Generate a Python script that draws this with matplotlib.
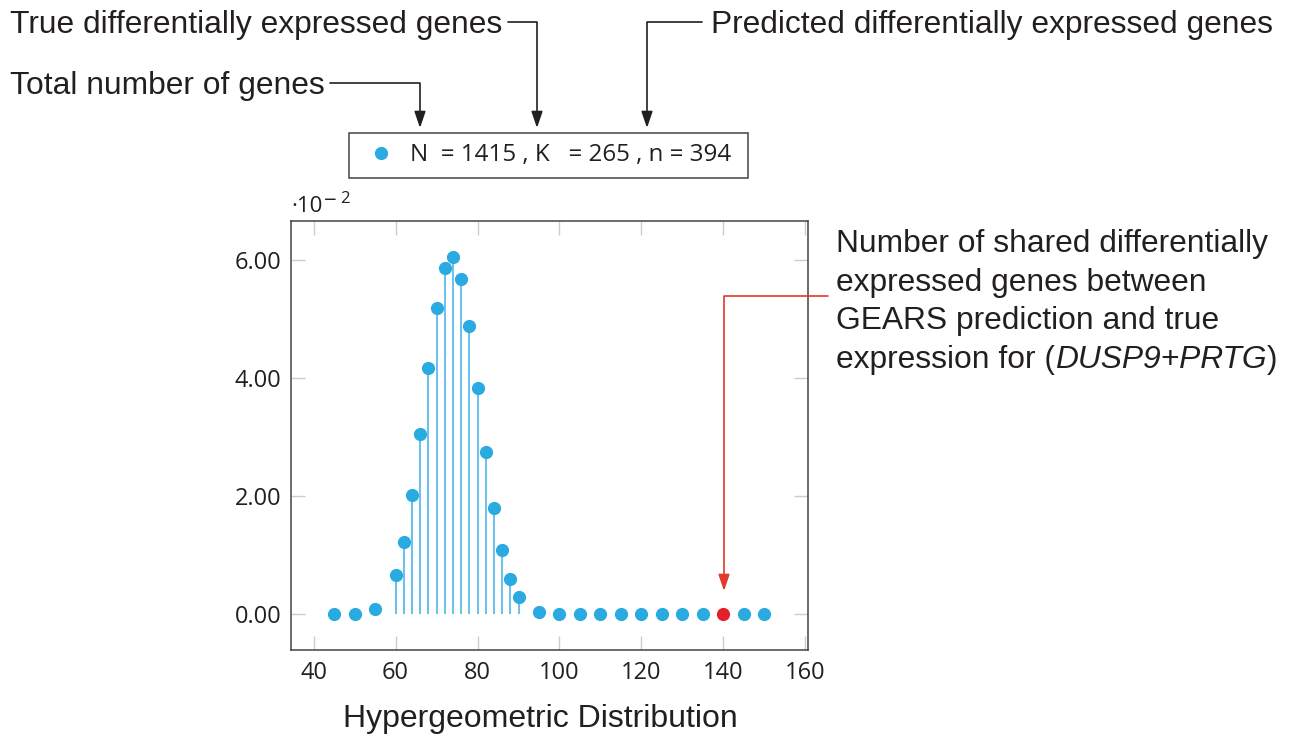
import matplotlib
matplotlib.use("Agg")
import matplotlib.pyplot as plt
from matplotlib.lines import Line2D
from matplotlib.patches import Rectangle

# ---- data (y in units of 1e-2) ----
k_values = [45, 50, 55, 60, 62, 64, 66, 68, 70, 72, 74, 76, 78, 80, 82, 84, 86, 88, 90,
            95, 100, 105, 110, 115, 120, 125, 130, 135, 140, 145, 150]
pmf_e2 = [0.00, 0.00, 0.09, 0.66, 1.22, 2.02, 3.05, 4.17, 5.19, 5.86, 6.05, 5.68, 4.88,
          3.83, 2.75, 1.80, 1.09, 0.60, 0.30, 0.03, 0.00, 0.00, 0.00, 0.00, 0.00, 0.00,
          0.00, 0.00, 0.00, 0.00, 0.00]
observed_k = 140
x_ticks = [40, 60, 80, 100, 120, 140, 160]
y_ticks = [0, 2, 4, 6]
legend_label = "N  = 1415 , K   = 265 , n = 394"
xlabel = "Hypergeometric Distribution"
label_true = "True differentially expressed genes"
label_pred = "Predicted differentially expressed genes"
label_total = "Total number of genes"
label_shared = ["Number of shared differentially",
                "expressed genes between",
                "GEARS prediction and true"]
label_shared_last = ["expression for (", "DUSP9+PRTG", ")"]

# ---- style ----
BLUE = "#29ABE2"
STEM = "#4DB8E8"
RED = "#E3202A"
TXT = "#231F20"
HELV = "Liberation Sans"
MYR = "Open Sans"
ANN_SIZE = 22.85

W, H = 1291, 737
fig = plt.figure(figsize=(W / 100, H / 100), dpi=100)
ax = fig.add_axes([291 / W, 1 - 650 / H, (807.5 - 291) / W, (650 - 221) / H])

ax.vlines(k_values, 0, pmf_e2, color=STEM, lw=1.2, zorder=2)
blue_k = [k for k in k_values if k != observed_k]
blue_y = [y for k, y in zip(k_values, pmf_e2) if k != observed_k]
ax.plot(blue_k, blue_y, "o", ms=9.5, color=BLUE, mec="none", zorder=3)
obs_y = pmf_e2[k_values.index(observed_k)]
ax.plot([observed_k], [obs_y], "o", ms=9.5, color=RED, mec="none", zorder=4)

ax.set_xlim(34.5, 160.5)
ax.set_ylim(-0.605, 6.655)
ax.set_xticks(x_ticks)
ax.set_yticks(y_ticks)
ax.set_yticklabels([f"{v:.2f}" for v in y_ticks])
ax.tick_params(direction="in", length=10, width=1, color="#cccccc",
               top=True, right=True, labelsize=17, labelcolor=TXT)
ax.tick_params(axis="y", pad=7)
ax.tick_params(axis="x", pad=8)
for lab in ax.get_xticklabels() + ax.get_yticklabels():
    lab.set_fontfamily(MYR)
for sp in ax.spines.values():
    sp.set_color("#444444")
    sp.set_linewidth(1.1)

ax.set_xlabel(xlabel, fontsize=23, family=HELV, color=TXT)
ax.xaxis.label.set_verticalalignment("baseline")
ax.xaxis.set_label_coords((540.5 - 291) / 516.5, (650 - 727) / 429)

# scale factor label
fig.text(291 / W, 1 - 212 / H, "·10", fontsize=16, family=MYR, color=TXT,
         ha="left", va="baseline")
fig.text(324 / W, 1 - 207 / H, "−", fontsize=16, family=MYR, color=TXT,
         ha="left", va="baseline")
fig.text(340 / W, 1 - 203 / H, "2", fontsize=12, family=MYR, color=TXT,
         ha="left", va="baseline")

# legend (content) + frame
LEG_SIZE = 17.4
em = LEG_SIZE / 72 * 100
handle = Line2D([], [], marker="o", ls="none", color=BLUE, mec="none", ms=9.5)
leg = fig.legend([handle], [legend_label], loc="center left",
                 bbox_to_anchor=((380.7 - em / 2) / W, 1 - 155.5 / H),
                 frameon=False, prop={"family": MYR, "size": LEG_SIZE},
                 handlelength=1.0, handletextpad=0.7, borderpad=0,
                 borderaxespad=0)
for t in leg.get_texts():
    t.set_color(TXT)
fig.add_artist(Rectangle((349 / W, 1 - 178 / H), (748 - 349) / W, 45 / H,
                         transform=fig.transFigure, fill=False,
                         edgecolor="#444444", lw=1.1))


# annotation texts (figure pixel coordinates, measured from top-left)
def ftext(x, y, s, **kw):
    return fig.text(x / W, 1 - y / H, s, fontsize=ANN_SIZE, family=HELV, color=TXT,
                    va="baseline", **kw)


ftext(10, 33, label_true, ha="left")
ftext(10, 94, label_total, ha="left")
ftext(1273, 33, label_pred, ha="right")
for i, line in enumerate(label_shared):
    ftext(836, 252 + i * 38.7, line, ha="left")

renderer = fig.canvas.get_renderer()
x_cur = 836
y_last = 252 + 3 * 38.7
for j, piece in enumerate(label_shared_last):
    t = ftext(x_cur, y_last, piece, ha="left",
              style="italic" if j == 1 else "normal")
    x_cur = t.get_window_extent(renderer).x1


def elbow_arrow(start, tip, color):
    ax.annotate("", xy=(tip[0], H - tip[1]), xytext=(start[0], H - start[1]),
                xycoords="figure pixels", textcoords="figure pixels",
                annotation_clip=False,
                arrowprops=dict(arrowstyle="-|>,head_length=0.5,head_width=0.17",
                                connectionstyle="angle,angleA=0,angleB=90,rad=0",
                                color=color, lw=1.2, shrinkA=0, shrinkB=0,
                                mutation_scale=20))


elbow_arrow((508, 22), (537, 128), "#231F20")
elbow_arrow((702, 22), (647, 128), "#231F20")
elbow_arrow((330, 83), (420, 128), "#231F20")
elbow_arrow((828, 296), (724, 591), "#E03A2A")

fig.savefig("out.png", dpi=100)
